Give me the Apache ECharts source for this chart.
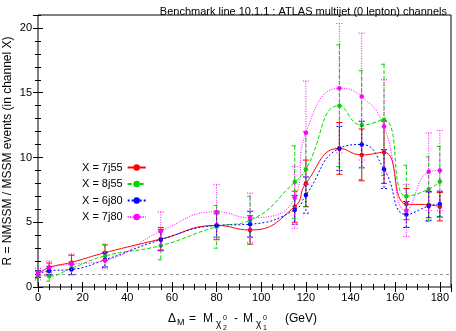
<!DOCTYPE html>
<html>
<head>
<meta charset="utf-8">
<script src="https://cdn.jsdelivr.net/npm/echarts@6/dist/echarts.min.js"></script>
<style>
  html, body { margin: 0; padding: 0; background: #fff; }
  #chart { width: 456px; height: 331px; }
</style>
</head>
<body>
<div id="chart"></div>
<script>
// mass splitting (GeV)
const deltaM = [0, 5, 15, 30, 55, 80, 95, 115, 120, 135, 145, 155, 165, 175, 180]

const channels = ["X = 7j55", "X = 8j55", "X = 6j80", "X = 7j80"]

const r7j55 = [1.0, 1.5, 1.9, 2.65, 3.7, 4.75, 4.4, 6.2, 8.0, 10.7, 10.2, 10.4, 6.4, 6.35, 6.2]
const e7j55 = [0.25, 0.35, 0.55, 0.6, 0.9, 1.1, 1.1, 1.2, 1.8, 2.0, 2.0, 2.4, 1.2, 1.0, 1.1]

const r8j55 = [0.95, 0.85, 1.45, 2.4, 3.2, 4.65, 5.15, 8.1, 9.1, 14.0, 12.5, 12.9, 7.0, 7.55, 8.15]
const e8j55 = [0.3, 0.4, 0.5, 0.9, 1.1, 1.65, 1.85, 2.8, 2.9, 4.7, 4.2, 4.3, 2.4, 2.5, 2.7]

const r6j80 = [1.0, 1.25, 1.35, 2.1, 3.65, 4.75, 4.85, 5.95, 7.1, 10.7, 11.0, 9.1, 5.6, 6.25, 6.4]
const e6j80 = [0.25, 0.3, 0.4, 0.55, 0.8, 0.9, 1.0, 1.1, 1.4, 1.7, 1.8, 1.5, 1.0, 1.1, 1.0]

const r7j80 = [1.0, 1.5, 1.75, 2.05, 4.3, 5.8, 5.35, 6.9, 11.9, 15.35, 14.7, 12.4, 5.9, 8.9, 9.0]
const e7j80 = [0.45, 0.5, 0.8, 0.65, 1.5, 2.1, 1.9, 2.4, 4.0, 5.0, 4.9, 3.6, 2.0, 3.0, 3.1]

const xTickLabels = [0, 20, 40, 60, 80, 100, 120, 140, 160, 180]
const yTickLabels = [0, 5, 10, 15, 20]
const xMax = 185
const yMax = 21
const refLevel = 1

const title = "Benchmark line 10.1.1 : ATLAS multijet (0 lepton) channels"
const yName = "R = NMSSM / MSSM events (in channel X)"

const styles = [
  { color: "#ff0000", dash: "solid", zdash: null },
  { color: "#00d800", dash: [4, 2], zdash: [4, 2] },
  { color: "#0000ff", dash: [2, 2], zdash: [2, 2] },
  { color: "#ff00ff", dash: [1, 1.5], zdash: [1, 1.5] }
]

const values = [r7j55, r8j55, r6j80, r7j80]
const errors = [e7j55, e8j55, e6j80, e7j80]

const chart = echarts.init(document.getElementById("chart"), null, { renderer: "canvas" })

function errRenderer(st) {
  return function (params, api) {
    const x = api.value(0)
    const y = api.value(1)
    const e = api.value(2)
    const top = api.coord([x, y + e])
    const bot = api.coord([x, y - e])
    const w = 3
    const style = { stroke: st.color, lineWidth: 1, lineDash: st.zdash }
    return {
      type: "group",
      children: [
        { type: "line", shape: { x1: top[0], y1: top[1], x2: bot[0], y2: bot[1] }, style },
        { type: "line", shape: { x1: top[0] - w, y1: top[1], x2: top[0] + w, y2: top[1] }, style },
        { type: "line", shape: { x1: bot[0] - w, y1: bot[1], x2: bot[0] + w, y2: bot[1] }, style }
      ]
    }
  }
}

function xAxisDef(pos, interval, len, labels) {
  return {
    type: "value",
    position: pos,
    min: 0,
    max: xMax,
    interval: interval,
    axisLine: { show: false },
    axisTick: { show: true, inside: true, length: len, lineStyle: { color: "#000", width: 1 } },
    axisLabel: labels ? {
      show: true,
      color: "#000",
      fontSize: 11,
      fontFamily: "Liberation Sans",
      margin: 5,
      showMaxLabel: false,
      formatter: v => (xTickLabels.includes(v) ? String(v) : "")
    } : { show: false },
    splitLine: { show: false }
  }
}

function yAxisDef(pos, interval, len, labels) {
  return {
    type: "value",
    position: pos,
    min: 0,
    max: yMax,
    interval: interval,
    axisLine: { show: false },
    axisTick: { show: true, inside: true, length: len, lineStyle: { color: "#000", width: 1 } },
    axisLabel: labels ? {
      show: true,
      color: "#000",
      fontSize: 11,
      fontFamily: "Liberation Sans",
      margin: 6,
      showMaxLabel: false,
      formatter: v => (yTickLabels.includes(v) ? String(v) : "")
    } : { show: false },
    splitLine: { show: false }
  }
}

const series = []
values.forEach((vals, i) => {
  series.push({
    name: channels[i] + " err",
    type: "custom",
    xAxisIndex: 0,
    yAxisIndex: 0,
    renderItem: errRenderer(styles[i]),
    data: deltaM.map((x, k) => [x, vals[k], errors[i][k]]),
    z: 2 + i * 2,
    silent: true
  })
  series.push({
    name: channels[i],
    type: "line",
    xAxisIndex: 0,
    yAxisIndex: 0,
    smooth: 0.5,
    data: deltaM.map((x, k) => [x, vals[k]]),
    symbol: "circle",
    symbolSize: 4.5,
    lineStyle: { color: styles[i].color, width: 1, type: styles[i].dash },
    itemStyle: { color: styles[i].color },
    z: 3 + i * 2,
    silent: true
  })
})

series.push({
  name: "ref",
  type: "line",
  data: [],
  silent: true,
  markLine: {
    silent: true,
    symbol: ["none", "none"],
    label: { show: false },
    lineStyle: { color: "#999", width: 1, type: [3, 3] },
    data: [{ yAxis: refLevel }]
  }
})

const sub = (x, y, text, size) => ({
  type: "text",
  x: x,
  y: y,
  style: { text: text, fill: "#000", fontSize: size, fontFamily: "Liberation Sans", textVerticalAlign: "middle" }
})

chart.setOption({
  animation: false,
  title: {
    text: title,
    right: 4,
    top: 1,
    textStyle: { fontSize: 11, fontWeight: "normal", color: "#000", fontFamily: "Liberation Sans" }
  },
  legend: {
    data: channels,
    orient: "vertical",
    left: 77,
    top: 157,
    align: "right",
    itemWidth: 18,
    itemHeight: 8,
    itemGap: 5.5,
    textStyle: { fontSize: 11, color: "#000", fontFamily: "Liberation Sans" }
  },
  grid: {
    left: 38,
    right: 5,
    top: 15,
    bottom: 44,
    show: true,
    borderColor: "#000",
    borderWidth: 1,
    containLabel: false,
    outerBoundsMode: "none"
  },
  xAxis: [
    xAxisDef("bottom", 20, 5, true),
    xAxisDef("bottom", 5, 3, false),
    xAxisDef("top", 20, 5, false),
    xAxisDef("top", 5, 3, false)
  ],
  yAxis: [
    yAxisDef("left", 5, 5, true),
    yAxisDef("left", 1, 3, false),
    yAxisDef("right", 5, 5, false),
    yAxisDef("right", 1, 3, false)
  ],
  graphic: [
    {
      type: "text",
      x: 8,
      y: 151,
      rotation: Math.PI / 2,
      style: {
        text: yName, fill: "#000", fontSize: 12, fontFamily: "Liberation Sans",
        textAlign: "center", textVerticalAlign: "middle"
      }
    },
    sub(168, 319, "\u0394", 12),
    sub(177, 323, "M", 9),
    sub(189, 319, "=", 12),
    sub(203, 319, "M", 12),
    sub(216, 324, "\u03c7", 10),
    sub(223, 318, "0", 7),
    sub(223, 328, "2", 7),
    sub(234, 319, "-", 12),
    sub(243, 319, "M", 12),
    sub(256, 324, "\u03c7", 10),
    sub(263, 318, "0", 7),
    sub(263, 328, "1", 7),
    sub(285, 319, "(GeV)", 12)
  ],
  series: series
})
</script>
</body>
</html>
